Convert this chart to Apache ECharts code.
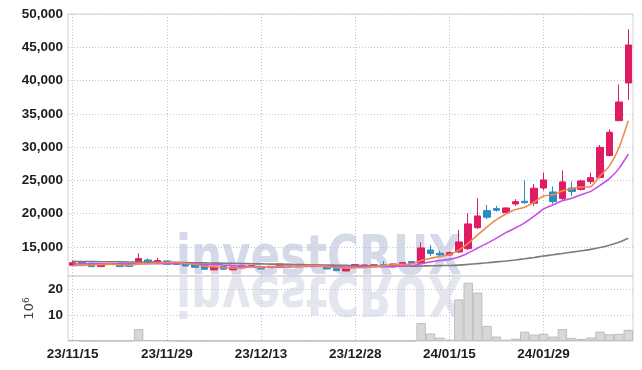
<!DOCTYPE html>
<html>
<head>
<meta charset="utf-8">
<script src="https://cdn.jsdelivr.net/npm/echarts@6.0.0/dist/echarts.min.js"></script>
<style>
  html, body { margin:0; padding:0; background:#ffffff; }
  #wrap { position:relative; width:642px; height:370px; overflow:hidden; }
  .wm { position:absolute; left:176px; font-family:'DejaVu Sans', sans-serif; font-weight:bold; font-size:56px; line-height:56px; white-space:nowrap; }
  #wm1 { top:227px; color:#d5d9e8; transform-origin:0 0; transform:scaleX(0.78); }
  #wm2 { top:268px; color:#e4e6ef; transform-origin:0 50%; transform:scale(0.78,-1); }
  #chart { position:absolute; left:0; top:0; width:642px; height:370px; }
</style>
</head>
<body>
<div id="wrap">
  <div class="wm" id="wm1">investCRUX</div>
  <div class="wm" id="wm2">investCRUX</div>
  <div id="chart"></div>
</div>
<script>
const dates = ['23/11/15','23/11/16','23/11/17','23/11/20','23/11/21','23/11/22','23/11/23','23/11/24','23/11/27','23/11/28',
  '23/11/29','23/11/30','23/12/01','23/12/04','23/12/05','23/12/06','23/12/07','23/12/08','23/12/11','23/12/12',
  '23/12/13','23/12/14','23/12/15','23/12/18','23/12/19','23/12/20','23/12/21','23/12/22','23/12/26','23/12/27',
  '23/12/28','24/01/02','24/01/03','24/01/04','24/01/05','24/01/08','24/01/09','24/01/10','24/01/11','24/01/12',
  '24/01/15','24/01/16','24/01/17','24/01/18','24/01/19','24/01/22','24/01/23','24/01/24','24/01/25','24/01/26',
  '24/01/29','24/01/30','24/01/31','24/02/01','24/02/02','24/02/05','24/02/06','24/02/07','24/02/08','24/02/13'];

const opens  = [12270,12720,12560,12060,12370,12360,12310,12760,13060,12660,
  12910,12450,12460,12360,12260,11570,12060,11570,11860,12150,
  12060,11900,12160,12400,12310,12100,12150,12060,11790,11410,
  12060,12060,12080,12340,12010,12360,12810,12570,14560,14070,
  13810,14260,14760,17910,20470,20770,20170,21470,21880,21580,
  23870,23270,22270,23870,23650,24820,25450,28750,33980,39640];
const closes = [12640,12480,12060,12410,12560,12060,12080,13260,12660,12960,
  12420,12400,12160,11960,11670,11970,11670,11970,12160,12200,
  11710,12100,12460,12300,12060,12150,12100,11710,11460,11760,
  12360,12310,12330,12260,12460,12660,12570,14860,14040,13810,
  14160,15770,18470,19670,19480,20530,20870,21820,21670,23830,
  25080,21820,24780,23350,24930,25420,29980,32240,36790,45350];
const lows   = [12230,12420,11990,12010,12330,12000,12030,12700,12620,12620,
  12380,12350,12100,11920,11620,11520,11630,11530,11820,12100,
  11670,11860,12120,12250,12010,12060,12050,11660,11420,11370,
  12020,12020,12040,12060,11970,12320,12530,12470,13660,13560,
  13660,14110,14560,17710,19170,20310,20100,21170,21470,21170,
  23500,21470,22000,22680,23500,24470,25300,28600,33900,37090];
const highs  = [12950,12760,12600,12430,12600,12400,12350,14070,13320,13360,
  12950,12500,12500,12400,12300,12000,12100,12000,12200,12250,
  12100,12150,12500,12450,12350,12200,12200,12100,11830,11800,
  12400,12350,12370,12870,12500,12700,12850,15690,15320,14460,
  14300,17570,20080,22330,21320,21170,20950,22180,25080,24470,
  26200,24100,26500,24850,25100,26170,30330,32690,39410,47700];

const ma5  = [12200,12250,12300,12360,12430,12314,12234,12474,12524,12604,
  12676,12740,12520,12380,12122,12032,11886,11848,11888,11994,
  11942,12028,12126,12154,12126,12214,12214,12064,11896,11836,
  11878,11920,12044,12204,12344,12404,12456,12962,13318,13588,
  13888,14528,15580,16820,18030,19110,19960,20630,20980,21744,
  22654,22844,23436,23772,23992,24060,25692,27184,29872,33956];
const ma10 = [12450,12470,12460,12470,12490,12480,12470,12500,12510,12517,
  12495,12487,12497,12452,12363,12354,12313,12184,12134,12058,
  11987,11957,11987,12021,12060,12078,12121,12095,12025,11981,
  12046,12067,12054,12050,12090,12141,12188,12503,12761,12966,
  13146,13492,14106,14847,15549,16336,17166,17862,18625,19627,
  20719,21324,21955,22323,22868,23357,24268,25266,26778,28930];
const ma60 = [12840,12830,12815,12800,12790,12775,12760,12750,12735,12720,
  12700,12680,12660,12640,12615,12590,12565,12540,12515,12490,
  12465,12440,12420,12395,12370,12345,12320,12295,12265,12240,
  12215,12190,12170,12150,12135,12120,12110,12150,12180,12205,
  12235,12290,12390,12510,12630,12765,12905,13065,13240,13440,
  13660,13830,14040,14230,14440,14650,14930,15280,15720,16330];

const volumes = [0.4,0.15,0.1,0.1,0.1,0.1,0.1,4.6,0.4,0.35,
  0.3,0.15,0.1,0.1,0.1,0.1,0.1,0.1,0.1,0.1,
  0.1,0.1,0.1,0.1,0.1,0.1,0.1,0.1,0.1,0.1,
  0.1,0.1,0.1,0.1,0.1,0.1,0.15,6.9,2.9,1.3,
  0.5,16.0,22.4,18.6,5.8,1.7,0.5,0.9,3.6,2.5,
  2.8,1.7,4.6,1.2,0.8,1.3,3.6,2.6,2.8,4.3];

const priceTicks = [15000,20000,25000,30000,35000,40000,45000,50000];
const volumeTicks = [10,20];

const FONT = "'Liberation Sans', Arial, sans-serif";
const LABEL_SIZE = 13.5;
const LABEL_COLOR = '#1c1c1c';
const UP = '#e11b63', DOWN = '#2b8dc6';
const GRIDC = '#bfc5d9';
const BORDER = '#cfd0d8';

function fmt(v) { return String(v).replace(/\B(?=(\d{3})+(?!\d))/g, ','); }

const candleData = dates.map((d, i) => [opens[i], closes[i], lows[i], highs[i]]);

const chart = echarts.init(document.getElementById('chart'), null, {renderer: 'canvas'});
chart.setOption({
  animation: false,
  backgroundColor: 'transparent',
  textStyle: { fontFamily: FONT },
  grid: [
    { left: 68, right: 9, top: 14, height: 262, show: true, borderColor: BORDER, borderWidth: 1, backgroundColor: 'transparent' },
    { left: 68, right: 9, top: 276, height: 65, show: true, borderColor: BORDER, borderWidth: 1, backgroundColor: 'transparent' }
  ],
  xAxis: [
    { type: 'category', gridIndex: 0, data: dates, boundaryGap: true,
      axisLine: { show: false }, axisTick: { show: false }, axisLabel: { show: false },
      splitLine: { show: true, interval: 9, alignWithLabel: true, lineStyle: { color: GRIDC, type: [1, 2], width: 1 } } },
    { type: 'category', gridIndex: 1, data: dates, boundaryGap: true,
      axisLine: { show: false }, axisTick: { show: false },
      axisLabel: { show: true, interval: 9, color: LABEL_COLOR, fontSize: LABEL_SIZE, fontWeight: 'bold', margin: 6, fontFamily: FONT },
      splitLine: { show: true, interval: 9, alignWithLabel: true, lineStyle: { color: GRIDC, type: [1, 2], width: 1 } } }
  ],
  yAxis: [
    { type: 'value', gridIndex: 0, min: 10650, max: 50000, scale: true,
      axisLine: { show: false }, axisTick: { show: false, customValues: priceTicks },
      axisLabel: { customValues: priceTicks, formatter: fmt, color: LABEL_COLOR, fontSize: LABEL_SIZE, fontWeight: 'bold', margin: 5, fontFamily: FONT, padding: [5,0,0,0] },
      splitLine: { show: true, lineStyle: { color: GRIDC, type: [1, 2], width: 1 } } },
    { type: 'value', gridIndex: 1, min: 0, max: 25,
      axisLine: { show: false }, axisTick: { show: false, customValues: volumeTicks },
      axisLabel: { customValues: volumeTicks, color: LABEL_COLOR, fontSize: LABEL_SIZE, fontWeight: 'bold', margin: 5, fontFamily: FONT, padding: [5,0,0,0] },
      splitLine: { show: true, lineStyle: { color: GRIDC, type: [1, 2], width: 1 } },
      name: '10{s|6}', nameLocation: 'middle', nameRotate: 90, nameGap: 31, nameMoveOverlap: false,
      nameTextStyle: { color: '#444', fontSize: 13, fontFamily: 'DejaVu Sans', rich: { s: { fontSize: 9, verticalAlign: 'top', color: '#444', fontFamily: 'DejaVu Sans', padding: [0,0,6,0] } } } }
  ],
  series: [
    { type: 'candlestick', xAxisIndex: 0, yAxisIndex: 0, data: candleData, barWidth: 7,
      itemStyle: { color: UP, color0: DOWN, borderColor: UP, borderColor0: DOWN, borderWidth: 1 } },
    { type: 'line', xAxisIndex: 0, yAxisIndex: 0, data: ma60, symbol: 'none', smooth: 0.2,
      lineStyle: { color: '#7c7c7c', width: 1.6 } },
    { type: 'line', xAxisIndex: 0, yAxisIndex: 0, data: ma10, symbol: 'none', smooth: 0.2,
      lineStyle: { color: '#c451ea', width: 1.6 } },
    { type: 'line', xAxisIndex: 0, yAxisIndex: 0, data: ma5, symbol: 'none', smooth: 0.2,
      lineStyle: { color: '#ef8a4c', width: 1.6 } },
    { type: 'bar', xAxisIndex: 1, yAxisIndex: 1, data: volumes, barCategoryGap: '0%',
      itemStyle: { color: '#d8d8d8', borderColor: '#bdbdbd', borderWidth: 1 } }
  ]
});
</script>
</body>
</html>
